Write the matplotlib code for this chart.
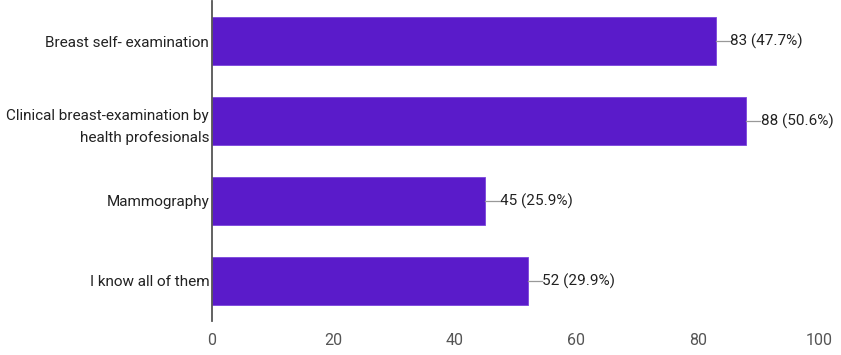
import matplotlib.pyplot as plt
import numpy as np

categories = ["Breast self- examination",
              "Clinical breast-examination by\nhealth profesionals",
              "Mammography",
              "I know all of them"]
counts = [83, 88, 45, 52]
percents = [47.7, 50.6, 25.9, 29.9]
xticks = [0, 20, 40, 60, 80, 100]

plt.rcParams['font.family'] = ['Roboto', 'DejaVu Sans']

fig = plt.figure(figsize=(8.41, 3.55), dpi=100)
ax = fig.add_axes([0.252, 0.096, 0.722, 0.901])

y = np.arange(len(categories))
ax.barh(y, counts, height=0.61, color="#5a1bca", edgecolor="#7a45dc", linewidth=0.6)

for yi, c, p in zip(y, counts, percents):
    ax.plot([c, c + 2.3], [yi, yi], color="#999999", lw=0.9)
    ax.text(c + 2.4, yi, f"{c} ({p}%)", va="center", ha="left",
            fontsize=11, color="#222222")

ax.set_xlim(0, 100)
ax.set_ylim(3.5, -0.5)
ax.set_yticks(y)
ax.set_yticklabels(categories, fontsize=11, color="#222222", linespacing=1.75)
ax.set_xticks(xticks)
ax.set_xticklabels([str(t) for t in xticks], fontsize=11.5, color="#555555")
ax.tick_params(axis="y", length=0, pad=2)
ax.tick_params(axis="x", length=0, pad=9)

for s in ["top", "right", "bottom"]:
    ax.spines[s].set_visible(False)
ax.spines["left"].set_color("#555555")
ax.spines["left"].set_linewidth(1.3)

fig.savefig("out.png", dpi=100)
